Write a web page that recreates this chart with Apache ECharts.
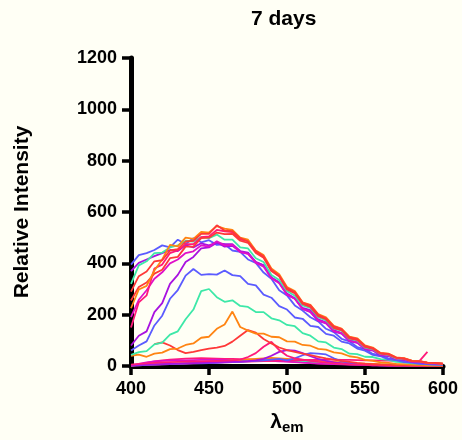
<!DOCTYPE html>
<html><head><meta charset="utf-8">
<script src="https://cdn.jsdelivr.net/npm/echarts@6/dist/echarts.min.js"></script>
<style>html,body{margin:0;padding:0;background:#fffff5;}#c{width:462px;height:440px;}</style>
</head><body><div id="c"></div>
<script>
const wavelengths = [400,405,410,415,420,425,430,435,440,445,450,455,460,465,470,475,480,485,490,495,500,505,510,515,520,525,530,535,540,545,550,555,560,565,570,575,580,585,590,595,600];
const xTicks = [400,450,500,550,600];
const yTicks = [0,200,400,600,800,1000,1200];

const blueA    = [395,432,440,452,470,462,492,475,498,482,490,472,474,450,445,415,402,364,340,295,275,236,216,190,174,145,132,106,96,74,66,47,42,30,28,18,17,11,11,7,6];
const purpleA  = [370,402,415,428,440,452,448,470,462,478,470,482,465,468,445,438,405,392,344,325,282,264,226,218,182,170,140,128,102,92,68,62,43,40,28,26,17,16,11,11,8];
const tealA    = [320,392,408,440,442,462,470,488,485,502,498,512,492,492,462,458,420,405,355,335,292,274,236,226,190,178,146,138,106,100,72,66,47,43,30,28,19,18,12,11,8];
const redA     = [290,350,368,408,412,450,455,485,488,515,515,548,528,525,498,485,448,428,375,352,304,288,246,236,199,186,154,144,112,106,78,70,50,47,33,30,20,19,13,12,9];
const orangeA  = [225,298,312,372,415,472,466,500,495,522,520,545,535,530,500,492,450,432,380,358,308,292,248,238,202,190,156,146,114,108,80,72,51,48,34,31,21,19,13,12,9];
const pinkA    = [150,248,275,380,395,440,450,475,475,502,505,530,525,522,492,488,445,425,372,350,300,285,244,232,196,184,152,142,110,104,76,68,49,45,32,29,20,18,12,11,8];
const purpleB  = [80,118,135,210,245,320,355,405,425,458,462,480,475,475,448,442,405,392,345,325,278,262,222,210,176,166,134,126,97,90,66,60,42,39,27,25,16,15,10,10,7];
const redB     = [255,308,325,360,375,420,425,465,465,498,500,520,514,515,488,480,440,422,370,350,298,284,242,230,194,182,148,140,108,102,75,68,49,45,32,29,19,18,12,11,8];
const magentaA = [190,258,295,340,365,400,415,440,447,470,465,486,470,472,444,437,402,387,342,322,278,262,222,212,178,168,136,128,98,92,68,62,44,41,28,26,17,16,11,10,7];
const blueB    = [60,80,96,158,196,262,296,352,378,355,358,356,372,354,350,320,314,278,266,233,220,189,184,156,152,125,118,95,88,68,60,43,38,26,23,15,13,8,7,5,4];
const tealB    = [43,54,58,84,91,122,135,182,220,292,300,268,250,256,234,230,210,210,186,178,160,155,128,118,96,92,72,66,48,46,36,35,27,24,16,14,10,9,6,5,4];
const orangeC  = [40,44,36,48,52,66,68,82,88,110,114,145,162,212,152,138,126,126,114,112,96,95,82,79,67,64,53,49,38,34,24,20,14,12,8,7,5,4,3,3,2];
const redC     = [null,null,null,85,92,80,62,50,55,62,68,72,78,95,118,140,130,105,88,72,62,55,48,42,36,30,25,20,16,12,9,7,5,4,3,3,2,2,2,1,1];
const pinkD    = [5,8,10,12,14,15,16,17,18,18,19,20,21,22,25,35,50,75,94,62,40,30,25,20,16,13,10,8,6,5,4,3,3,2,2,2,2,1,1,1,1];
const purpleE  = [3,4,5,6,7,8,9,10,11,12,13,14,15,16,17,19,22,28,40,55,62,60,50,38,28,20,14,10,7,5,4,3,3,2,2,2,2,1,1,1,1];
const blueE    = [2,3,4,5,6,7,8,9,10,10,11,12,14,15,16,18,20,22,25,28,22,30,42,50,48,45,30,18,12,8,6,4,3,3,2,2,2,2,1,1,1];
const pinkLow  = [0,5,12,18,22,25,27,29,30,31,30,29,28,28,27,26,25,23,22,20,18,16,14,12,10,9,8,7,6,5,5,4,4,3,3,3,3,3,3,2,2];
const magentaLow = [2,8,14,18,20,21,22,22,23,24,24,25,24,24,23,22,22,21,20,18,17,15,13,11,9,8,7,6,5,5,4,4,3,3,3,3,2,2,2,2,2];
const tealLow  = [4,5,6,7,8,9,10,11,12,13,14,15,16,18,19,20,22,24,26,25,24,22,20,18,16,14,12,10,9,8,7,6,5,5,4,4,3,3,3,2,2];
const orangeLow = [3,4,5,6,7,8,9,10,12,14,16,18,20,22,24,26,28,30,32,30,28,26,24,22,20,18,16,14,12,10,9,8,7,6,5,4,4,3,3,3,2];
const redLow   = [2,3,4,5,6,7,8,9,10,11,12,13,14,15,16,17,18,19,20,21,22,22,23,24,24,25,25,24,24,23,22,22,21,21,20,20,19,20,55,null,null];

const C = {blue:'#5b5bff', purple:'#a812e0', teal:'#3de8a8', orange:'#ff8412', red:'#ff3838', pink:'#ff1a7a', magenta:'#e010c8'};
const FONT = 'Arial, "Liberation Sans", sans-serif';

const seriesDefs = [
  ['pinkLow', pinkLow, C.pink], ['magentaLow', magentaLow, C.magenta], ['tealLow', tealLow, C.teal],
  ['orangeLow', orangeLow, C.orange], ['redLow', redLow, C.pink], ['blueE', blueE, C.blue],
  ['purpleE', purpleE, C.purple], ['pinkD', pinkD, C.pink], ['redC', redC, C.red],
  ['orangeC', orangeC, C.orange], ['tealB', tealB, C.teal], ['blueB', blueB, C.blue],
  ['blueA', blueA, C.blue], ['purpleA', purpleA, C.purple], ['purpleB', purpleB, C.purple],
  ['magentaA', magentaA, C.magenta], ['tealA', tealA, C.teal], ['pinkA', pinkA, C.pink],
  ['redB', redB, C.red], ['orangeA', orangeA, C.orange], ['redA', redA, C.red]
];

const chart = echarts.init(document.getElementById('c'), null, {renderer:'canvas'});
chart.setOption({
  backgroundColor: '#fffff5',
  animation: false,
  title: {text:'7 days', left:246, top:4, textStyle:{fontSize:21, fontWeight:'bold', fontFamily:FONT, color:'#000'}},
  grid: {left:131, right:19, top:58, bottom:74, containLabel:false},
  xAxis: {
    type:'value', min:xTicks[0], max:xTicks[xTicks.length-1], interval:50,
    axisLine:{show:true, onZero:false, lineStyle:{color:'#000', width:5}},
    axisTick:{show:true, length:9, lineStyle:{width:3.5, color:'#000'}},
    axisLabel:{color:'#000', fontSize:18, fontWeight:'bold', fontFamily:FONT, margin:14, formatter: v => String(v)},
    splitLine:{show:false},
    name:'{l|λ}{s|em}', nameLocation:'middle', nameGap:44,
    nameTextStyle:{rich:{
      l:{fontSize:21, fontWeight:'bold', fontFamily:FONT, color:'#000'},
      s:{fontSize:15, fontWeight:'bold', fontFamily:FONT, color:'#000', padding:[10,0,0,0]}
    }}
  },
  yAxis: {
    type:'value', min:yTicks[0], max:yTicks[yTicks.length-1], interval:200,
    axisLine:{show:true, lineStyle:{color:'#000', width:5}},
    axisTick:{show:true, length:9, lineStyle:{width:3.5, color:'#000'}},
    axisLabel:{color:'#000', fontSize:18, fontWeight:'bold', fontFamily:FONT, margin:14, formatter: v => String(v)},
    splitLine:{show:false},
    name:'Relative Intensity', nameLocation:'middle', nameGap:98,
    nameTextStyle:{fontSize:21, fontWeight:'bold', fontFamily:FONT, color:'#000'}
  },
  series: seriesDefs.map(([name, data, color]) => ({
    name, type:'line', data: wavelengths.map((w,i)=>[w, data[i]]),
    showSymbol:false, symbol:'none', silent:true, connectNulls:false,
    lineStyle:{width:1.8, color}, itemStyle:{color}
  }))
});
</script></body></html>
